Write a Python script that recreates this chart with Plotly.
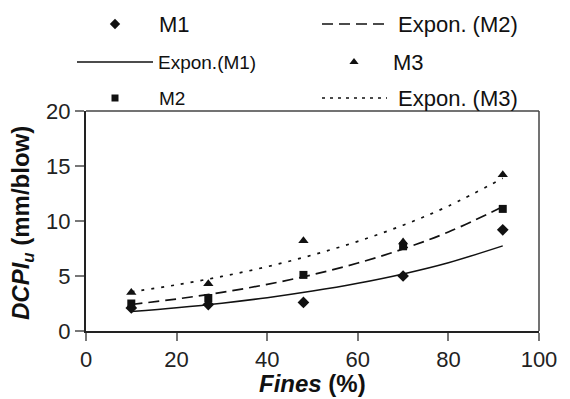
import plotly.graph_objects as go

# ---- data ----
fines = [10, 27, 48, 70, 92]
m1 = [2.1, 2.4, 2.6, 5.0, 9.2]
m2 = [2.5, 3.0, 5.1, 7.7, 11.1]
m3 = [3.5, 4.3, 8.2, 8.1, 14.2]

trend_x = [10, 20, 30, 40, 50, 60, 70, 80, 92]
trend_m1 = [1.77, 2.12, 2.53, 3.03, 3.63, 4.34, 5.19, 6.21, 7.74]
trend_m2 = [2.41, 2.91, 3.51, 4.24, 5.12, 6.18, 7.46, 9.00, 11.30]
trend_m3 = [3.56, 4.20, 4.96, 5.85, 6.91, 8.15, 9.62, 11.36, 13.89]

x_ticks = [0, 20, 40, 60, 80, 100]
y_ticks = [0, 5, 10, 15, 20]

W, H = 570, 399
L, R, T, B = 86, 539, 111, 331  # plot box in pixels
FONT = "Liberation Sans, Arial, sans-serif"
INK = "#111111"

fig = go.Figure()

# ---- main traces ----
fig.add_trace(go.Scatter(x=trend_x, y=trend_m1, mode="lines", line=dict(color=INK, width=1.5, shape="spline"), xaxis="x", yaxis="y"))
fig.add_trace(go.Scatter(x=trend_x, y=trend_m2, mode="lines", line=dict(color=INK, width=1.7, dash="11px,6px", shape="spline"), xaxis="x", yaxis="y"))
fig.add_trace(go.Scatter(x=trend_x, y=trend_m3, mode="lines", line=dict(color=INK, width=1.7, dash="3px,7px", shape="spline"), xaxis="x", yaxis="y"))
fig.add_trace(go.Scatter(x=fines, y=m1, mode="markers", marker=dict(symbol="diamond", size=9, color=INK), xaxis="x", yaxis="y"))
fig.add_trace(go.Scatter(x=fines, y=m2, mode="markers", marker=dict(symbol="square", size=8, color=INK), xaxis="x", yaxis="y"))
fig.add_trace(go.Scatter(x=fines, y=m3, mode="markers", marker=dict(symbol="triangle-up", size=9, color=INK), xaxis="x", yaxis="y"))

# ---- manual legend on a pixel-space axis ----
rows = [24, 62, 98]
lx0, lx1 = 77, 153
rx0, rx1 = 322, 387
fig.add_trace(go.Scatter(x=[115], y=[rows[0]], mode="markers", marker=dict(symbol="diamond", size=8, color=INK), xaxis="x2", yaxis="y2"))
fig.add_trace(go.Scatter(x=[lx0, lx1], y=[rows[1], rows[1]], mode="lines", line=dict(color=INK, width=1.5), xaxis="x2", yaxis="y2"))
fig.add_trace(go.Scatter(x=[115], y=[rows[2]], mode="markers", marker=dict(symbol="square", size=7, color=INK), xaxis="x2", yaxis="y2"))
fig.add_trace(go.Scatter(x=[rx0, rx1], y=[rows[0], rows[0]], mode="lines", line=dict(color=INK, width=1.5, dash="11px,6px"), xaxis="x2", yaxis="y2"))
fig.add_trace(go.Scatter(x=[354], y=[rows[1]], mode="markers", marker=dict(symbol="triangle-up", size=8, color=INK), xaxis="x2", yaxis="y2"))
fig.add_trace(go.Scatter(x=[rx0, rx1], y=[rows[2], rows[2]], mode="lines", line=dict(color=INK, width=1.5, dash="3px,5px"), xaxis="x2", yaxis="y2"))

legend_texts = [
    ("M1", 157, rows[0], 22),
    ("Expon.(M1)", 156, rows[1], 19),
    ("M2", 157, rows[2], 19),
    ("Expon. (M2)", 396, rows[0], 22),
    ("M3", 391, rows[1], 22),
    ("Expon. (M3)", 396, rows[2], 22),
]
annotations = []
for txt, x, y, s in legend_texts:
    annotations.append(dict(text=txt, x=x / W, y=1 - y / H, xref="paper", yref="paper", xanchor="left", yanchor="middle",
                            showarrow=False, font=dict(family=FONT, size=s, color=INK)))

# axis titles
annotations.append(dict(text="<b><i>Fines</i> (%)</b>", x=(L + R) / 2 / W, y=1 - 383 / H, xref="paper", yref="paper",
                        xanchor="center", yanchor="middle", showarrow=False, font=dict(family=FONT, size=24, color=INK)))
annotations.append(dict(text="<b><i>DCPI<sub>u</sub></i> (mm/blow)</b>", x=22 / W, y=1 - 223 / H, xref="paper", yref="paper",
                        xanchor="center", yanchor="middle", textangle=-90, showarrow=False,
                        font=dict(family=FONT, size=24, color=INK)))

# top / right frame lines
shapes = [
    dict(type="line", xref="paper", yref="paper", x0=L / W, x1=R / W, y0=1 - T / H, y1=1 - T / H, line=dict(color="#444444", width=1.5)),
    dict(type="line", xref="paper", yref="paper", x0=R / W, x1=R / W, y0=1 - T / H, y1=1 - B / H, line=dict(color="#444444", width=1.5)),
]

fig.update_layout(
    width=W, height=H,
    margin=dict(l=0, r=0, t=0, b=0, autoexpand=False),
    paper_bgcolor="white", plot_bgcolor="rgba(0,0,0,0)",
    showlegend=False,
    font=dict(family=FONT, color="#222222"),
    xaxis=dict(domain=[L / W, R / W], range=[0, 100], tickvals=x_ticks, ticks="outside", ticklen=8,
               tickcolor="#777777", tickwidth=1.5, showline=True, linecolor="#222222", linewidth=2,
               showgrid=False, zeroline=False, tickfont=dict(family=FONT, size=22, color="#222222"),
               anchor="y", fixedrange=True, automargin=False),
    yaxis=dict(domain=[(H - B) / H, (H - T) / H], range=[0, 20], tickvals=y_ticks, ticks="outside", ticklen=9,
               tickcolor="#777777", tickwidth=1.5, showline=True, linecolor="#222222", linewidth=2,
               showgrid=False, zeroline=False, tickfont=dict(family=FONT, size=22, color="#222222"),
               anchor="x", fixedrange=True, automargin=False),
    xaxis2=dict(domain=[0, 1], range=[0, W], visible=False, anchor="y2", fixedrange=True, automargin=False),
    yaxis2=dict(domain=[0, 1], range=[H, 0], visible=False, anchor="x2", fixedrange=True, automargin=False),
    annotations=annotations,
    shapes=shapes,
)

fig.write_html("out.html", config={"displayModeBar": False},
               post_script="document.body.style.margin='0px';document.body.style.overflow='hidden';")
